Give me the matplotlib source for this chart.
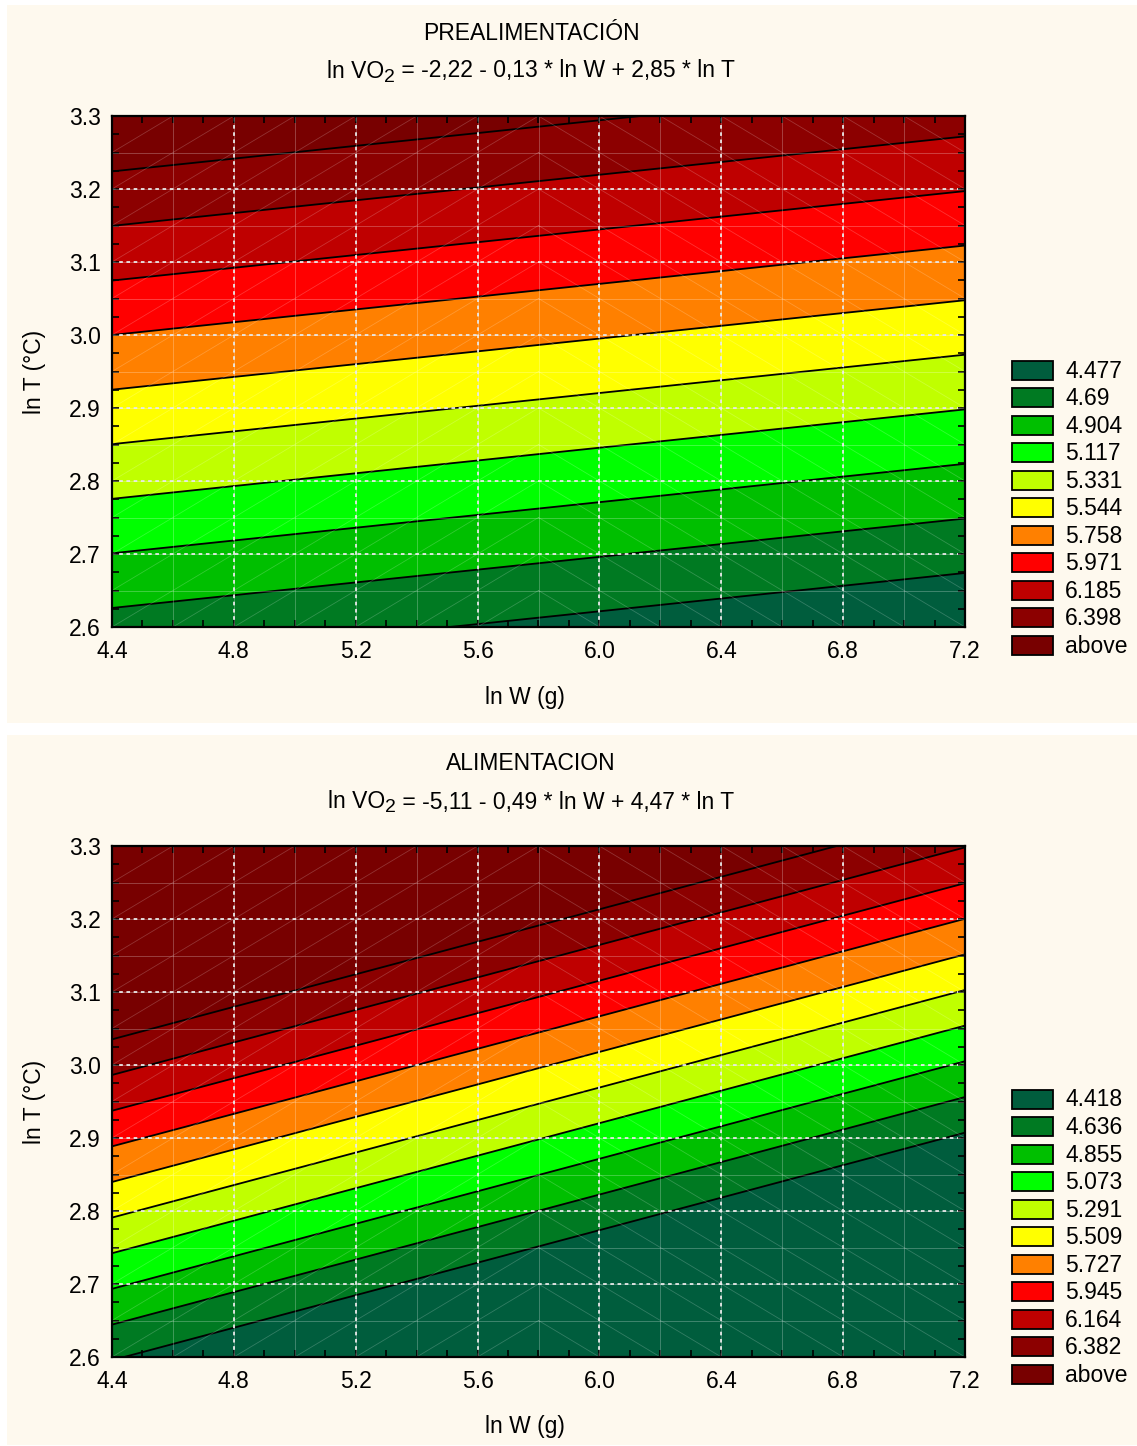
import numpy as np
import matplotlib
matplotlib.use("Agg")
import matplotlib.pyplot as plt
from matplotlib.patches import Rectangle

plt.rcParams['font.family'] = ['Liberation Sans', 'DejaVu Sans']

# ---------------- data ----------------
x_range = [4.4, 7.2]          # ln W (g)
y_range = [2.6, 3.3]          # ln T (°C)

titles = ["PREALIMENTACIÓN", "ALIMENTACION"]
eq_rest = [" = -2,22 - 0,13 * ln W + 2,85 * ln T",
           " = -5,11 - 0,49 * ln W + 4,47 * ln T"]

# plane z = a + b*lnW + c*lnT
pre_coef = [-2.26, -0.125, 2.856]
ali_coef = [-4.99, -0.4975, 4.468]

pre_levels = [4.477, 4.69, 4.904, 5.117, 5.331, 5.544, 5.758, 5.971, 6.185, 6.398]
ali_levels = [4.418, 4.636, 4.855, 5.073, 5.291, 5.509, 5.727, 5.945, 6.164, 6.382]

colors = ['#005d3d', '#007a22', '#00bf00', '#00ff00', '#c0ff00', '#ffff00',
          '#ff8000', '#ff0000', '#bf0000', '#8c0000', '#780000']

xticks = [4.4, 4.8, 5.2, 5.6, 6.0, 6.4, 6.8, 7.2]
yticks = [2.6, 2.7, 2.8, 2.9, 3.0, 3.1, 3.2, 3.3]

# ---------------- figure ----------------
W, H = 1137, 1446
fig = plt.figure(figsize=(W / 100, H / 100), dpi=100)
fig.patch.set_facecolor('white')
renderer = fig.canvas.get_renderer()

def fx(px):
    return px / W

def fy(py):
    return 1 - py / H

PANEL = '#fef9ee'
FS = 16.5

panels = [
    dict(top=5, bot=723, ax_top=116, ax_bot=627, t1=34, t2=71, xl=697,
         leg0=370, coef=pre_coef, levels=pre_levels, title=titles[0], eq=eq_rest[0]),
    dict(top=735, bot=1445, ax_top=846, ax_bot=1357, t1=764, t2=802, xl=1427,
         leg0=1099, coef=ali_coef, levels=ali_levels, title=titles[1], eq=eq_rest[1]),
]

ax_left, ax_right = 112, 965


def equation(cx, cy, rest):
    """Draw 'ln VO' + subscript 2 + rest, centred at pixel (cx, cy)."""
    t1 = fig.text(0, fy(cy), "ln VO", ha='left', va='center', fontsize=FS)
    t2 = fig.text(0, fy(cy + 6), "2", ha='left', va='center', fontsize=FS * 0.85)
    t3 = fig.text(0, fy(cy), rest, ha='left', va='center', fontsize=FS)
    w1 = t1.get_window_extent(renderer).width
    w2 = t2.get_window_extent(renderer).width
    w3 = t3.get_window_extent(renderer).width
    x0 = cx - (w1 + w2 + w3) / 2
    t1.set_x(fx(x0))
    t2.set_x(fx(x0 + w1))
    t3.set_x(fx(x0 + w1 + w2))


for p in panels:
    fig.add_artist(Rectangle((fx(7), fy(p['bot'])), fx(W - 7), (p['bot'] - p['top']) / H,
                             transform=fig.transFigure, facecolor=PANEL,
                             edgecolor='none', zorder=0))
    ax = fig.add_axes([fx(ax_left), fy(p['ax_bot']), fx(ax_right - ax_left),
                       (p['ax_bot'] - p['ax_top']) / H])
    ax.set_zorder(2)
    xs = np.linspace(x_range[0], x_range[1], 300)
    ys = np.linspace(y_range[0], y_range[1], 300)
    X, Y = np.meshgrid(xs, ys)
    a, b, c = p['coef']
    Z = a + b * X + c * Y
    lv = p['levels']
    ax.contourf(X, Y, Z, levels=[-1e3] + lv + [1e3], colors=colors, antialiased=True)
    ax.contour(X, Y, Z, levels=lv, colors='black', linewidths=1.3)

    # faint minor grid
    for gx in np.arange(4.6, 7.2, 0.2):
        ax.axvline(gx, color='white', alpha=0.25, lw=0.7, zorder=3)
    for gy in np.arange(2.65, 3.3, 0.05):
        ax.axhline(gy, color='white', alpha=0.25, lw=0.7, zorder=3)
    # faint triangulation diagonals
    xm = 5.8
    for k in np.arange(-40, 40):
        cst = 1.5 + k * 0.05
        xl_ = np.array([x_range[0], xm])
        ax.plot(xl_, cst + 0.25 * xl_, color='white', alpha=0.2, lw=0.6, zorder=3)
        xr_ = np.array([xm, x_range[1]])
        ax.plot(xr_, cst + 4.0 - 0.25 * xr_, color='white', alpha=0.2, lw=0.6, zorder=3)

    ax.set_xlim(x_range)
    ax.set_ylim(y_range)
    ax.set_xticks(xticks)
    ax.set_yticks(yticks)
    ax.set_xticklabels([f"{v:.1f}" for v in xticks])
    ax.set_yticklabels([f"{v:.1f}" for v in yticks])
    ax.set_xticks(np.arange(4.4, 7.2001, 0.1), minor=True)
    ax.set_yticks(np.arange(2.6, 3.3001, 0.025), minor=True)
    ax.tick_params(which='both', direction='in', top=True, right=True,
                   length=5, width=1.2, color='black', labelsize=FS)
    ax.tick_params(axis='x', which='major', pad=9)
    ax.tick_params(axis='y', which='major', pad=8)
    ax.grid(True, which='major', color='#e6e6e6', linestyle=(0, (2, 2)),
            linewidth=1.3, zorder=4)
    ax.set_axisbelow(False)
    for s in ax.spines.values():
        s.set_linewidth(1.6)
        s.set_zorder(6)

    # titles and labels
    fig.text(fx(531), fy(p['t1']), p['title'], ha='center', va='center', fontsize=FS)
    equation(531, p['t2'], p['eq'])
    fig.text(fx(525), fy(p['xl']), 'ln W (g)', ha='center', va='center', fontsize=FS)
    fig.text(fx(35), fy((p['ax_top'] + p['ax_bot']) / 2), 'ln T (°C)', ha='center',
             va='center', rotation=90, fontsize=FS)

    # legend
    labels = [f"{v:g}" for v in lv] + ['above']
    for i, (lab, col) in enumerate(zip(labels, colors)):
        cy = p['leg0'] + i * 27.55
        fig.add_artist(Rectangle((fx(1012), fy(cy + 9.5)), fx(41), 19 / H,
                                 transform=fig.transFigure, facecolor=col,
                                 edgecolor='black', linewidth=1.3, zorder=3))
        fig.text(fx(1065), fy(cy + 1), lab, ha='left', va='center', fontsize=FS, zorder=3)

fig.savefig('out.png', dpi=100, facecolor='white')
